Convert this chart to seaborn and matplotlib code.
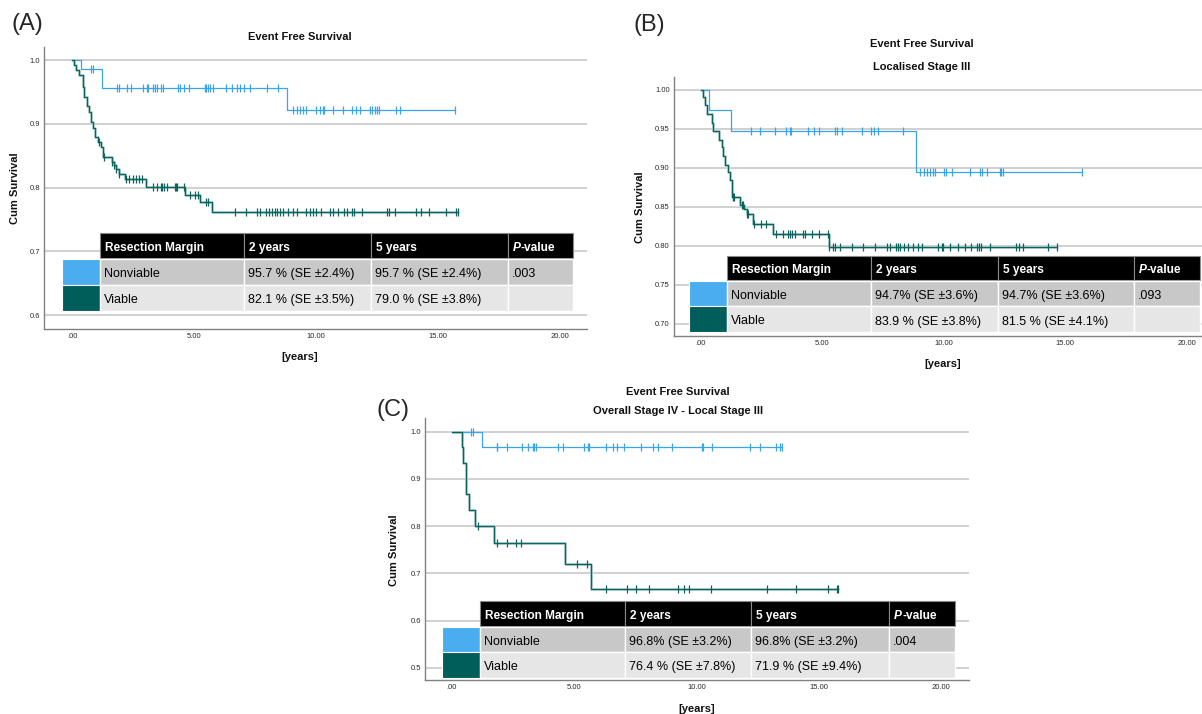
"""
Kaplan-Meier event free survival, three panels (A/B/C) with summary tables.
"""
import numpy as np
import matplotlib
matplotlib.use("Agg")
import matplotlib.pyplot as plt
from matplotlib.patches import Rectangle
from matplotlib.ticker import FuncFormatter
import seaborn as sns

W, H = 1202, 714

# ──────────────────────────────────────────────────────────────────────────────
# Data
# ──────────────────────────────────────────────────────────────────────────────
GROUPS = ["Nonviable", "Viable"]

# Panel A – all patients
A_nv_t = [0.0, 0.34, 1.23, 8.81]
A_nv_s = [1.0, 0.986, 0.957, 0.921]
A_nv_cens = [0.75, 0.84, 1.85, 1.91, 2.26, 2.39, 2.91, 3.05, 3.12, 3.32, 3.39, 3.46,
             3.63, 3.70, 4.34, 4.41, 4.57, 4.79, 5.43, 5.50, 5.58, 5.65, 5.78, 6.32,
             6.53, 6.74, 6.87, 7.03, 7.29, 8.00, 8.44, 9.03, 9.20, 9.33, 9.47, 9.60,
             9.99, 10.15, 10.26, 10.31, 10.67, 11.09, 11.45, 11.61, 11.80, 12.19,
             12.30, 12.39, 12.50, 12.58, 13.29, 13.44, 15.69]
A_v_t = [0.0, 0.085, 0.15, 0.29, 0.42, 0.48, 0.59, 0.70, 0.75, 0.86, 0.93, 1.07,
         1.18, 1.27, 1.61, 1.71, 1.79, 1.91, 2.16, 3.02, 4.64, 5.23, 5.71]
A_v_s = [1.0, 0.992, 0.984, 0.976, 0.958, 0.942, 0.928, 0.919, 0.903, 0.893, 0.880,
         0.872, 0.864, 0.848, 0.840, 0.835, 0.830, 0.822, 0.814, 0.801, 0.789, 0.777,
         0.762]
A_v_cens = [1.09, 1.28, 1.62, 1.71, 1.79, 1.93, 2.21, 2.34, 2.48, 2.61, 2.75, 2.84,
            3.32, 3.46, 3.62, 3.69, 3.75, 3.87, 4.21, 4.25, 4.30, 4.57, 4.83, 5.03,
            5.17, 5.47, 5.58, 6.67, 7.14, 7.58, 7.69, 7.96, 8.07, 8.17, 8.31, 8.40,
            8.51, 8.65, 8.85, 9.06, 9.20, 9.60, 9.75, 9.88, 9.99, 10.19, 10.56, 10.70,
            10.90, 11.12, 11.25, 11.45, 11.56, 11.87, 12.90, 12.97, 13.21, 14.07,
            14.30, 14.62, 15.33, 15.72, 15.80]

# Panel B – localised stage III
B_nv_t = [0.0, 0.36, 1.25, 8.87]
B_nv_s = [1.0, 0.974, 0.947, 0.895]
B_nv_cens = [2.06, 2.45, 3.06, 3.50, 3.66, 3.72, 4.43, 4.67, 4.85, 5.51, 5.59, 5.80,
             6.62, 7.02, 7.14, 7.30, 8.33, 9.04, 9.20, 9.31, 9.44, 9.57, 9.66, 10.03,
             10.10, 10.34, 11.10, 11.48, 11.58, 11.77, 12.32, 12.37, 12.45, 15.70]
B_v_t = [0.0, 0.104, 0.173, 0.24, 0.447, 0.516, 0.763, 0.859, 0.928, 0.996, 1.106,
         1.20, 1.30, 1.614, 1.79, 1.89, 2.14, 2.99, 5.29]
B_v_s = [1.0, 0.991, 0.980, 0.969, 0.957, 0.947, 0.935, 0.926, 0.915, 0.904, 0.894,
         0.884, 0.862, 0.852, 0.847, 0.840, 0.828, 0.815, 0.798]
B_v_cens = [1.33, 1.37, 1.68, 1.75, 1.92, 1.96, 2.19, 2.48, 2.68, 3.10, 3.37, 3.58,
            3.67, 3.74, 3.88, 4.22, 4.29, 4.57, 4.88, 5.25, 5.30, 5.43, 5.54, 5.75,
            6.22, 6.70, 7.17, 7.65, 7.81, 8.05, 8.12, 8.20, 8.36, 8.52, 8.76, 8.96,
            9.12, 9.76, 9.95, 9.99, 10.26, 10.58, 10.90, 11.13, 11.37, 11.45, 11.53,
            11.90, 12.99, 13.11, 13.27, 14.30, 14.65]

# Panel C – overall stage IV, local stage III
C_nv_t = [0.0, 1.245]
C_nv_s = [1.0, 0.968]
C_nv_cens = [0.77, 0.85, 1.83, 1.86, 2.27, 2.88, 3.10, 3.30, 3.37, 3.44, 4.33, 4.56,
             5.40, 5.58, 5.62, 6.30, 6.57, 6.76, 7.05, 7.73, 8.24, 8.44, 8.99, 10.21,
             10.25, 10.62, 12.19, 12.61, 13.27, 13.40, 13.48]
C_v_t = [0.0, 0.427, 0.468, 0.577, 0.713, 0.945, 1.72, 4.64, 5.70]
C_v_s = [1.0, 0.967, 0.934, 0.868, 0.834, 0.801, 0.764, 0.719, 0.667]
C_v_cens = [1.05, 1.83, 2.24, 2.62, 2.83, 5.10, 5.51, 6.29, 7.17, 7.53, 8.07, 9.23,
            9.50, 9.69, 10.58, 12.89, 14.07, 15.39, 15.75, 15.80]

HEADER = ["Resection Margin", "2 years", "5 years", "P-value"]
A_rows = [["Nonviable", "95.7 % (SE ±2.4%)", "95.7 % (SE ±2.4%)", ".003"],
          ["Viable", "82.1 % (SE ±3.5%)", "79.0 % (SE ±3.8%)", ""]]
B_rows = [["Nonviable", "94.7% (SE ±3.6%)", "94.7% (SE ±3.6%)", ".093"],
          ["Viable", "83.9 % (SE ±3.8%)", "81.5 % (SE ±4.1%)", ""]]
C_rows = [["Nonviable", "96.8% (SE ±3.2%)", "96.8% (SE ±3.2%)", ".004"],
          ["Viable", "76.4 % (SE ±7.8%)", "71.9 % (SE ±9.4%)", ""]]

XTICKS = [0, 5, 10, 15, 20]

# ──────────────────────────────────────────────────────────────────────────────
# Style
# ──────────────────────────────────────────────────────────────────────────────
sns.set_theme(style="white")
plt.rcParams["font.family"] = ["Liberation Sans", "DejaVu Sans"]

NV_COLOR = "#3aa4ea"
V_COLOR = "#0b625f"
V_HALO = "#b3d2d0"
SW_COLORS = {"Nonviable": "#4aadef", "Viable": "#005e5a"}
ROW_BG = ["#c8c8c8", "#e6e6e6"]
GRID = "#c8c8c8"
SPINE = "#808080"

fig = plt.figure(figsize=(W / 100, H / 100), dpi=100)


def px_axes(x0, y0, x1, y1):
    return fig.add_axes([x0 / W, 1 - y1 / H, (x1 - x0) / W, (y1 - y0) / H])


def km_curve(ax, t, s, cens, color, halo=None):
    tt = list(t) + [max(cens)]
    ss = list(s) + [s[-1]]
    if halo:
        sns.lineplot(x=tt, y=ss, ax=ax, color=halo, lw=2.0, drawstyle="steps-post",
                     estimator=None, sort=False, zorder=2)
    sns.lineplot(x=tt, y=ss, ax=ax, color=color, lw=0.9, drawstyle="steps-post",
                 estimator=None, sort=False, zorder=3)
    idx = np.searchsorted(t, cens, side="right") - 1
    ax.plot(cens, np.asarray(s)[idx], ls="none", marker="|", ms=6, mew=0.9,
            color=color, zorder=4)


def setup_axes(ax, xlim, ylim, yticks, yfmt):
    ax.set_xlim(*xlim)
    ax.set_ylim(*ylim)
    ax.set_xticks(XTICKS)
    ax.xaxis.set_major_formatter(FuncFormatter(lambda v, p: f"{v:.2f}".lstrip("0")
                                               if v < 1 else f"{v:.2f}"))
    ax.set_yticks(yticks)
    ax.yaxis.set_major_formatter(FuncFormatter(lambda v, p: yfmt % v))
    ax.tick_params(length=0, labelsize=5.5, colors="#2a2a2a", pad=3)
    ax.yaxis.grid(True, color=GRID, lw=1.2)
    ax.set_axisbelow(True)
    for sp in ["top", "right"]:
        ax.spines[sp].set_visible(False)
    for sp in ["left", "bottom"]:
        ax.spines[sp].set_color(SPINE)
        ax.spines[sp].set_linewidth(1.0)
    ax.set_xlabel("")
    ax.set_ylabel("")


# ──────────────────────────────────────────────────────────────────────────────
# Panels
# ──────────────────────────────────────────────────────────────────────────────
panels = [
    dict(box=(44, 46.7, 587, 329.3), xlim=(-1.16, 21.1), ylim=(0.578, 1.021),
         yticks=[0.6, 0.7, 0.8, 0.9, 1.0], yfmt="%.1f",
         nv=(A_nv_t, A_nv_s, A_nv_cens), v=(A_v_t, A_v_s, A_v_cens)),
    dict(box=(673.8, 76.7, 1202, 336), xlim=(-1.11, 20.64), ylim=(0.684, 1.0167),
         yticks=[0.70, 0.75, 0.80, 0.85, 0.90, 0.95, 1.00], yfmt="%.2f",
         nv=(B_nv_t, B_nv_s, B_nv_cens), v=(B_v_t, B_v_s, B_v_cens)),
    dict(box=(425, 418.3, 969, 680), xlim=(-1.1, 21.14), ylim=(0.4746, 1.028),
         yticks=[0.5, 0.6, 0.7, 0.8, 0.9, 1.0], yfmt="%.1f",
         nv=(C_nv_t, C_nv_s, C_nv_cens), v=(C_v_t, C_v_s, C_v_cens)),
]

for p in panels:
    ax = px_axes(*p["box"])
    km_curve(ax, *p["nv"], color=NV_COLOR)
    km_curve(ax, *p["v"], color=V_COLOR, halo=V_HALO)
    setup_axes(ax, p["xlim"], p["ylim"], p["yticks"], p["yfmt"])

# overlay in pixel coordinates for titles, labels and tables
ov = fig.add_axes([0, 0, 1, 1], zorder=10)
ov.set_xlim(0, W)
ov.set_ylim(H, 0)
ov.axis("off")

bold = dict(fontsize=8, fontweight="bold", ha="center", va="center", color="#111111")

ov.text(27, 24, "(A)", fontsize=17, ha="center", va="center")
ov.text(300, 37, "Event Free Survival", **bold)
ov.text(15, 188, "Cum Survival", rotation=90, **bold)
ov.text(300, 357, "[years]", **bold)

ov.text(649, 25, "(B)", fontsize=17, ha="center", va="center")
ov.text(921.5, 44.3, "Event Free Survival", **bold)
ov.text(921.5, 66.7, "Localised Stage III", **bold)
ov.text(639.6, 206.7, "Cum Survival", rotation=90, **bold)
ov.text(943, 364, "[years]", **bold)

ov.text(393, 410, "(C)", fontsize=17, ha="center", va="center")
ov.text(677.7, 391.7, "Event Free Survival", **bold)
ov.text(677.7, 410.7, "Overall Stage IV - Local Stage III", **bold)
ov.text(393.8, 550, "Cum Survival", rotation=90, **bold)
ov.text(697, 709, "[years]", **bold)

renderer = fig.canvas.get_renderer()


def draw_table(sw_x0, cols, ys, rows):
    h0, h1, r1, r2 = ys
    row_y = [(h1 + 1, r1), (r1, r2)]
    # header
    for i in range(4):
        ov.add_patch(Rectangle((cols[i], h0), cols[i + 1] - cols[i], h1 - h0,
                               fc="black", ec="#8a8a8a", lw=0.8))
    for i, lab in enumerate(HEADER):
        x = cols[i] + 5
        yc = (h0 + h1) / 2 + 1
        if lab == "P-value":
            t = ov.text(x, yc, "P", fontsize=8.6, fontweight="bold", fontstyle="italic",
                        color="white", ha="left", va="center_baseline")
            w = t.get_window_extent(renderer).width
            ov.text(x + w, yc, "-value", fontsize=8.6, fontweight="bold",
                    color="white", ha="left", va="center_baseline")
        else:
            ov.text(x, yc, lab, fontsize=8.6, fontweight="bold", color="white",
                    ha="left", va="center_baseline")
    # body
    for r, (y0, y1) in enumerate(row_y):
        ov.add_patch(Rectangle((sw_x0, y0), cols[0] - sw_x0, y1 - y0,
                               fc=SW_COLORS[GROUPS[r]], ec="white", lw=0.8))
        for i in range(4):
            ov.add_patch(Rectangle((cols[i], y0), cols[i + 1] - cols[i], y1 - y0,
                                   fc=ROW_BG[r], ec="white", lw=1.0))
            ov.text(cols[i] + 4, (y0 + y1) / 2 + 1, rows[r][i], fontsize=9,
                    color="black", ha="left", va="center_baseline")


draw_table(61.7, [100, 244, 371, 508, 573], (233.3, 258.3, 284.5, 310.5), A_rows)
draw_table(689, [727, 870.8, 998, 1134, 1200], (255.5, 280, 306.3, 331.7), B_rows)
draw_table(442, [480, 624.6, 750.8, 889.2, 954.6], (601, 626, 652, 677.7), C_rows)

fig.savefig("out.png", dpi=100)
